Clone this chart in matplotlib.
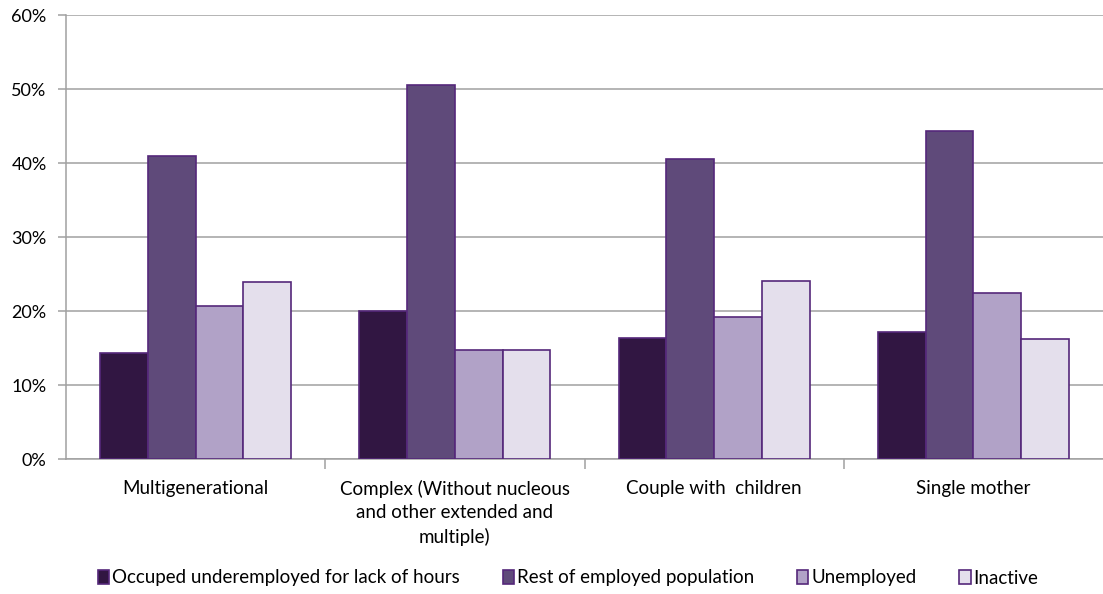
import numpy as np
import matplotlib.pyplot as plt
from matplotlib.patches import Patch

plt.rcParams['font.family'] = ['Lato', 'DejaVu Sans']

categories = ['Multigenerational',
              'Complex (Without nucleous\nand other extended and\nmultiple)',
              'Couple with  children',
              'Single mother']
series_names = ['Occuped underemployed for lack of hours',
                'Rest of employed population',
                'Unemployed',
                'Inactive']
underemployed = [14.3, 20.0, 16.4, 17.2]
rest_employed = [40.9, 50.5, 40.6, 44.3]
unemployed = [20.7, 14.7, 19.2, 22.5]
inactive = [23.9, 14.7, 24.0, 16.2]

colors = ['#311642', '#5F4A7A', '#B1A2C7', '#E4DFEC']
edge = '#55287A'
fs = 13.5

fig = plt.figure(figsize=(11.03, 5.94), dpi=100)
ax = fig.add_axes([66 / 1103, 1 - 459 / 594, 1 - 66 / 1103, 444 / 594])

x = np.arange(len(categories))
w = 0.184
for i, vals in enumerate([underemployed, rest_employed, unemployed, inactive]):
    ax.bar(x + (i - 1.5) * w, vals, w, color=colors[i], edgecolor=edge,
           linewidth=1.2, zorder=3)

ax.set_xlim(-0.5, 3.5)
ax.set_ylim(0, 60)
ax.set_yticks(np.arange(0, 61, 10))
ax.set_yticklabels([f'{v}%' for v in range(0, 61, 10)], fontsize=13)
ax.yaxis.grid(True, color='#A0A0A0', linewidth=1.1, zorder=0)
ax.tick_params(axis='y', length=6, color='#A0A0A0', width=1.1, pad=8)

ax.set_xticks([0.5, 1.5, 2.5])
ax.set_xticklabels([])
ax.tick_params(axis='x', length=7, color='#A0A0A0', width=1.1)
for xi, lab in zip(x, categories):
    ax.text(xi, -2.8, lab, ha='center', va='top', fontsize=fs,
            linespacing=1.45, transform=ax.transData)

for s in ['top', 'right']:
    ax.spines[s].set_visible(False)
for s in ['left', 'bottom']:
    ax.spines[s].set_color('#A0A0A0')
    ax.spines[s].set_linewidth(1.1)

handles = [Patch(facecolor=c, edgecolor=edge, linewidth=1.2) for c in colors]
fig.legend(handles, series_names, loc='center', bbox_to_anchor=(0.515, 1 - 578 / 594),
           ncol=4, frameon=False, fontsize=fs, handlelength=0.6, handleheight=0.7,
           handletextpad=0.15, columnspacing=2.3)

fig.savefig('out.png', dpi=100)
